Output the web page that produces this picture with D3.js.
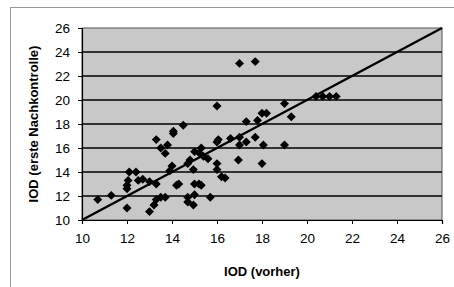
<!DOCTYPE html>
<html>
<head>
<meta charset="utf-8">
<script src="https://cdn.jsdelivr.net/npm/d3@7"></script>
<style>
  body { margin: 0; background: #fff; }
  text { font-family: Arial, "Liberation Sans", sans-serif; }
</style>
</head>
<body>
<svg width="454" height="287"></svg>
<script>
// IOD before (x) and at first follow-up (y)
var iodVorher = [
  10.7, 11.3, 12.0, 12.0, 12.0, 12.05, 12.1, 12.4, 12.5, 12.7,
  13.0, 13.0, 13.2, 13.3, 13.3, 13.3, 13.5, 13.7, 13.5, 13.7,
  13.9, 14.06, 14.06, 14.2, 14.5, 14.7, 14.7, 14.7, 14.8, 14.95,
  14.95, 15.0, 15.0, 15.2, 15.3, 15.3, 15.4, 15.6, 15.7, 15.0,
  16.0, 16.0, 16.06, 16.0, 16.0, 16.2, 16.36, 16.6, 16.95, 17.0,
  17.0, 17.3, 17.3, 17.7, 17.7, 17.8, 18.0, 18.06, 18.0, 18.2,
  19.0, 19.0, 19.3, 20.4, 20.7, 21.0, 21.3, 17.0, 14.3, 13.8,
  15.2, 14.0
];
var iodNach = [
  11.7, 12.05, 11.0, 12.6, 12.9, 13.3, 14.0, 14.0, 13.3, 13.4,
  13.2, 10.7, 11.25, 11.7, 13.0, 16.7, 16.0, 15.55, 11.9, 11.9,
  14.1, 17.2, 17.4, 12.9, 17.9, 14.7, 11.9, 11.5, 15.0, 14.2,
  11.25, 12.1, 15.7, 15.6, 16.0, 12.9, 15.3, 15.1, 11.9, 13.0,
  19.5, 16.5, 16.7, 14.7, 14.2, 13.6, 13.5, 16.8, 15.0, 16.9,
  16.25, 18.2, 16.5, 16.9, 23.2, 18.3, 14.7, 16.25, 18.9, 18.9,
  19.7, 16.25, 18.6, 20.3, 20.3, 20.3, 20.3, 23.05, 13.0, 16.25,
  13.0, 14.5
];
var yTicks = [10, 12, 14, 16, 18, 20, 22, 24, 26];
var xTicks = [10, 12, 14, 16, 18, 20, 22, 24, 26];
var trend = [10, 26]; // y = x

var svg = d3.select("svg");
var pLeft = 82, pRight = 442, pTop = 28, pBottom = 220;

var x = d3.scaleLinear().domain([10, 26]).range([pLeft, pRight]);
var y = d3.scaleLinear().domain([10, 26]).range([pBottom, pTop]);

// outer frame (only top and left visible in the scan)
svg.append("line").attr("x1", 10).attr("y1", 7.5).attr("x2", 454).attr("y2", 7.5)
  .attr("stroke", "#999").attr("stroke-width", 1);
svg.append("line").attr("x1", 10.5).attr("y1", 7).attr("x2", 10.5).attr("y2", 287)
  .attr("stroke", "#999").attr("stroke-width", 1);

// plot area
svg.append("rect")
  .attr("x", pLeft).attr("y", pTop)
  .attr("width", pRight - pLeft).attr("height", pBottom - pTop)
  .attr("fill", "#c8c8c8")
  .attr("stroke", "#555").attr("stroke-width", 1);

// gridlines
svg.append("g").selectAll("line")
  .data(yTicks.filter(d => d > 10 && d < 26))
  .enter().append("line")
  .attr("x1", pLeft).attr("x2", pRight)
  .attr("y1", d => y(d)).attr("y2", d => y(d))
  .attr("stroke", "#000").attr("stroke-width", 1.5);

// axes
var xAxis = svg.append("g")
  .attr("transform", "translate(0," + pBottom + ")")
  .call(d3.axisBottom(x).tickValues(xTicks).tickSize(4).tickPadding(9));
var yAxis = svg.append("g")
  .attr("transform", "translate(" + pLeft + ",0)")
  .call(d3.axisLeft(y).tickValues(yTicks).tickSize(4).tickPadding(8));

[xAxis, yAxis].forEach(function(a) {
  a.select(".domain").attr("stroke", "#000").attr("stroke-width", 1.2);
  a.selectAll(".tick line").attr("stroke", "#000");
  a.selectAll(".tick text")
    .attr("font-size", 13.5)
    .attr("font-family", "Arial, 'Liberation Sans', sans-serif")
    .attr("fill", "#000");
});

// points
var pts = iodVorher.map((v, i) => ({ x: v, y: iodNach[i] }));
svg.append("g").selectAll("path")
  .data(pts)
  .enter().append("path")
  .attr("d", d3.symbol(d3.symbolSquare).size(40))
  .attr("transform", d => "translate(" + x(d.x) + "," + y(d.y) + ") rotate(45)")
  .attr("fill", "#000");

// identity line
svg.append("line")
  .attr("x1", x(trend[0])).attr("y1", y(trend[0]))
  .attr("x2", x(trend[1])).attr("y2", y(trend[1]))
  .attr("stroke", "#000").attr("stroke-width", 2.5);

// titles
svg.append("text")
  .attr("x", (pLeft + pRight) / 2).attr("y", 276)
  .attr("text-anchor", "middle")
  .attr("font-size", 13).attr("font-weight", "bold")
  .text("IOD (vorher)");

svg.append("text")
  .attr("transform", "translate(38," + (pTop + pBottom) / 2 + ") rotate(-90)")
  .attr("text-anchor", "middle")
  .attr("font-size", 13).attr("font-weight", "bold")
  .text("IOD (erste Nachkontrolle)");
</script>
</body>
</html>
